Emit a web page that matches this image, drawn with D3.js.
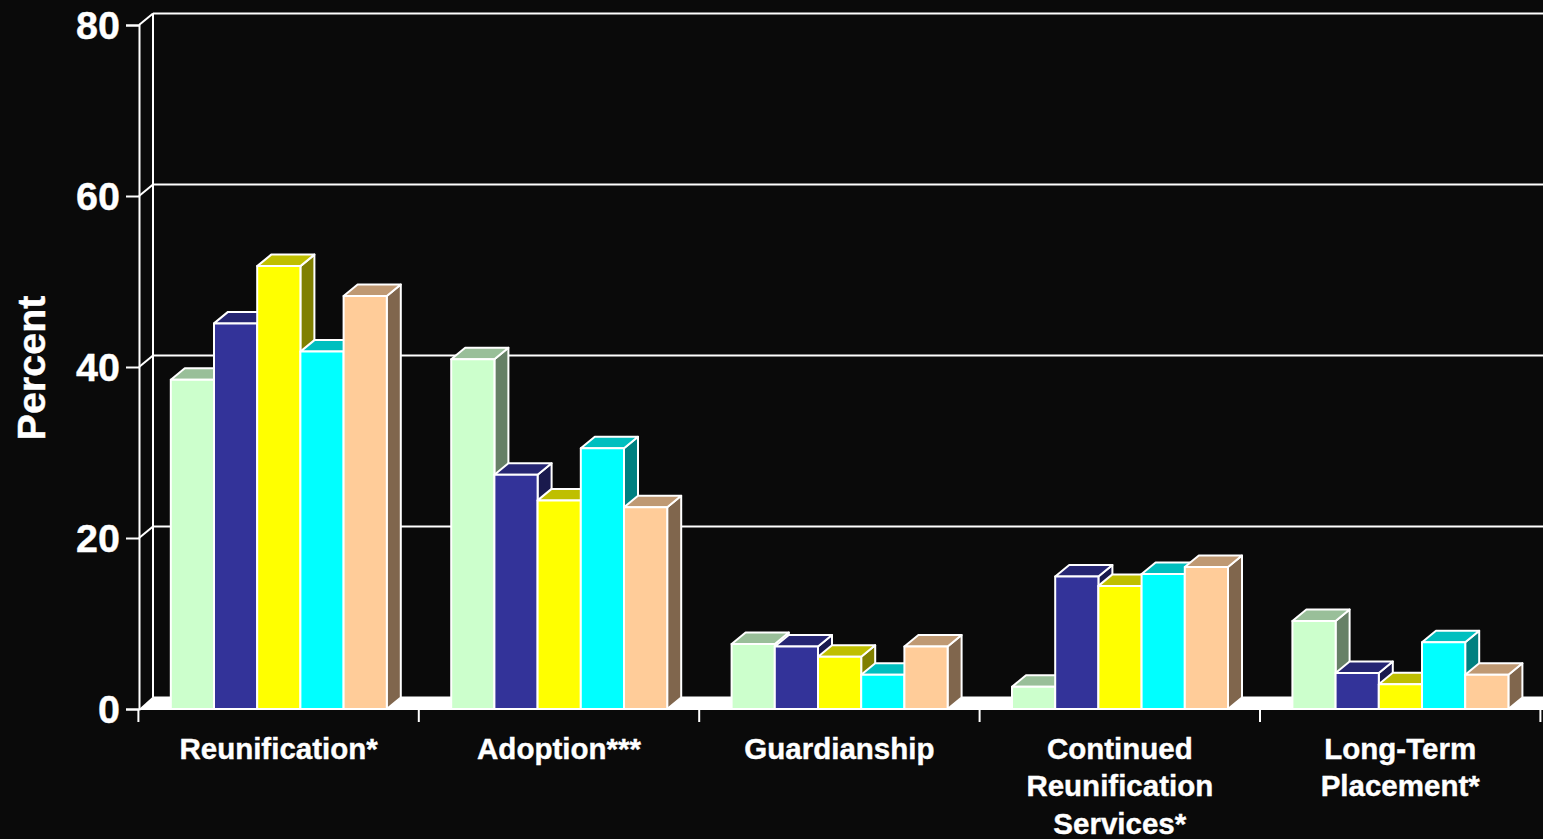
<!DOCTYPE html>
<html><head><meta charset="utf-8">
<script src="https://cdn.jsdelivr.net/npm/d3@7/dist/d3.min.js"></script>
<style>html,body{margin:0;padding:0;background:#0a0a0a;overflow:hidden}svg{display:block}
text{font-family:"Liberation Sans",Arial,sans-serif;font-weight:bold;fill:#fff;stroke:#fff;stroke-width:0.4px}</style>
</head><body><div id="c"></div>
<script>
const categories=[["Reunification*"],["Adoption***"],["Guardianship"],["Continued","Reunification","Services*"],["Long-Term","Placement*"]];
const seriesNames=["A","B","C","D","E"];
const seriesColors=["#CCFFCC","#333399","#FFFF00","#00FFFF","#FFCC99"];
const valuesA=[38.5,40.9,7.6,2.6,10.3];
const valuesB=[45.1,27.4,7.3,15.5,4.2];
const valuesC=[51.8,24.4,6.1,14.4,2.9];
const valuesD=[41.8,30.5,4.0,15.8,7.8];
const valuesE=[48.3,23.6,7.3,16.6,4.0];
const allValues=[valuesA,valuesB,valuesC,valuesD,valuesE];
const yTicks=[0,20,40,60,80];

const W=1543,H=839,dx=14,dy=11.5;
const svg=d3.select("#c").append("svg").attr("width",W).attr("height",H);
svg.append("rect").attr("width",W).attr("height",H).attr("fill","#0a0a0a");

const keys=categories.map(c=>c.join(" "));
const x=d3.scaleBand().domain(keys).range([138.4,1540.4]);
const y=d3.scaleLinear().domain([0,80]).range([709,25]);
const inner=d3.scaleBand().domain(seriesNames).range([32.4,x.bandwidth()-32]);

// back wall, gridlines
const wall=svg.append("g").attr("stroke","#fff").attr("stroke-width",2).attr("fill","none");
wall.selectAll("line.grid").data(yTicks.slice(1)).join("line").attr("class","grid")
  .attr("x1",139+dx).attr("x2",W).attr("y1",d=>y(d)-dy).attr("y2",d=>y(d)-dy);
wall.selectAll("line.slant").data(yTicks.slice(1)).join("line").attr("class","slant")
  .attr("x1",139).attr("x2",139+dx).attr("y1",d=>y(d)).attr("y2",d=>y(d)-dy);
wall.append("line").attr("x1",139+dx).attr("x2",139+dx).attr("y1",y(80)-dy).attr("y2",y(0)-dy);
// floor
svg.append("path").attr("fill","#fff")
  .attr("d",d3.line()([[139,y(0)],[139+dx,y(0)-dy-1],[W,y(0)-dy-1],[W,y(0)]])+"Z");

// bars
const shade=(c,k)=>{const r=d3.rgb(c);return d3.rgb(r.r*k,r.g*k,r.b*k).formatHex();};
const groups=svg.selectAll("g.cat").data(keys).join("g").attr("class","cat")
  .attr("transform",k=>`translate(${x(k)},0)`);
groups.each(function(k,ci){
  const g=d3.select(this);
  seriesNames.forEach((s,si)=>{
    const v=allValues[si][ci],c=seriesColors[si];
    const x0=inner(s),x1=x0+inner.bandwidth(),y0=y(0),y1=y(v);
    const b=g.append("g").attr("stroke","#fff").attr("stroke-width",2).attr("stroke-linejoin","round");
    b.append("path").attr("fill",shade(c,0.5))
      .attr("d",d3.line()([[x1,y0],[x1+dx,y0-dy],[x1+dx,y1-dy],[x1,y1]])+"Z");
    b.append("path").attr("fill",shade(c,0.75))
      .attr("d",d3.line()([[x0,y1],[x0+dx,y1-dy],[x1+dx,y1-dy],[x1,y1]])+"Z");
    b.append("rect").attr("x",x0).attr("y",y1).attr("width",x1-x0).attr("height",y0-y1).attr("fill",c);
  });
});

// axes
const yAxis=svg.append("g").attr("transform","translate(139,0)")
  .call(d3.axisLeft(y).tickValues(yTicks).tickSize(13).tickPadding(6));
yAxis.select(".domain").attr("stroke","#fff").attr("stroke-width",2);
yAxis.selectAll("line").attr("stroke","#fff").attr("stroke-width",2);
yAxis.selectAll("text").attr("font-size",39.5).attr("font-family",null).style("fill","#fff").attr("dy","0.34em");

const xAxisTicks=[...keys.map(k=>x(k)),x.range()[1]];
const xg=svg.append("g").attr("stroke","#fff").attr("stroke-width",2);
xg.append("line").attr("x1",139).attr("x2",W).attr("y1",y(0)).attr("y2",y(0));
xg.selectAll("line.t").data(xAxisTicks).join("line").attr("class","t")
  .attr("x1",d=>d).attr("x2",d=>d).attr("y1",y(0)).attr("y2",y(0)+13);

svg.selectAll("text.cat").data(categories).join("text").attr("class","cat")
  .attr("text-anchor","middle").attr("font-size",29.5)
  .each(function(lines,i){
    const cx=x(keys[i])+x.bandwidth()/2;
    d3.select(this).selectAll("tspan").data(lines).join("tspan")
      .attr("x",cx).attr("y",(d,j)=>758.5+37.6*j).text(d=>d);
  });

svg.append("text").attr("text-anchor","middle").attr("font-size",39.5)
  .attr("transform","translate(45,368) rotate(-90)").text("Percent");
</script></body></html>
